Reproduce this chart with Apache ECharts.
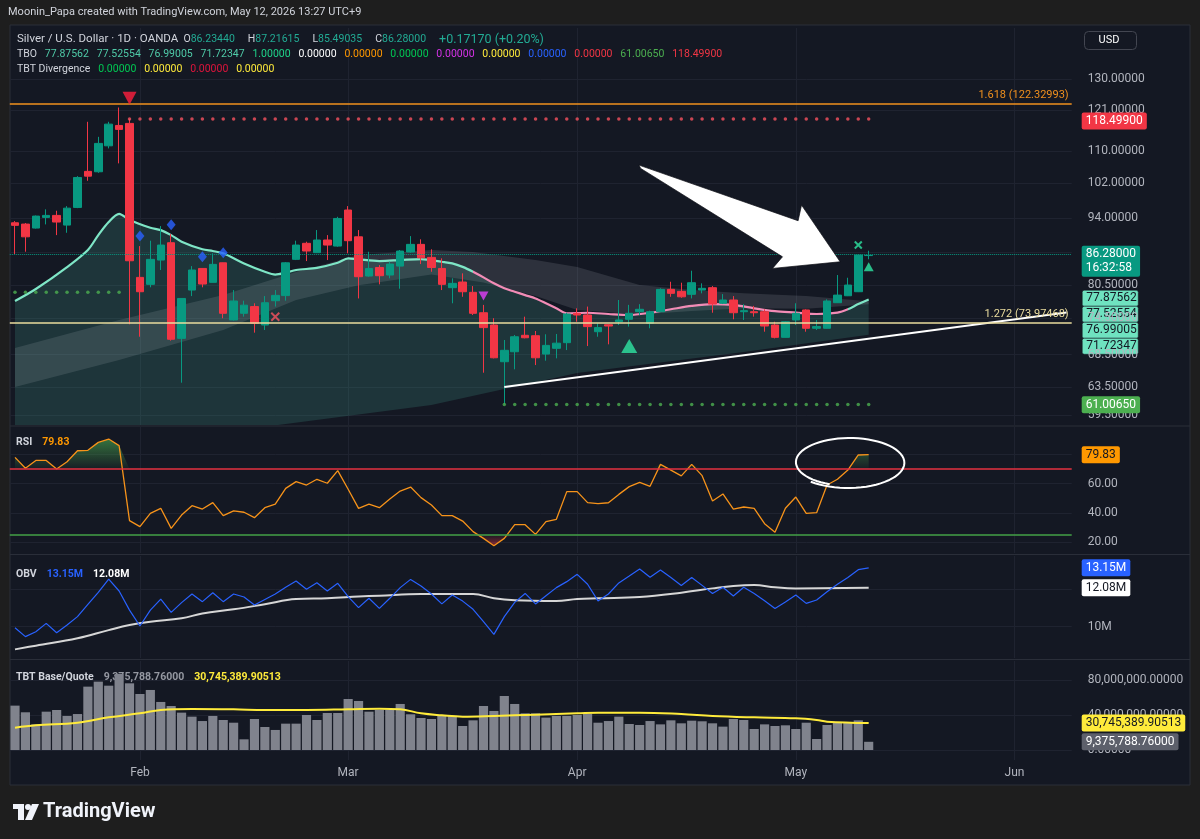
<!DOCTYPE html>
<html>
<head>
<meta charset="utf-8">
<title>Silver / U.S. Dollar · 1D · OANDA</title>
<script src="https://cdn.jsdelivr.net/npm/echarts@6/dist/echarts.min.js"></script>
<style>
  html, body { margin: 0; padding: 0; background: #1e1e1e; }
  #chart { width: 1200px; height: 839px; }
</style>
</head>
<body>
<div id="chart"></div>
<script>
// ---- values ----
var holidays = ['2026-04-03']   // no bar on Good Friday
var barCount = 102               // bars + empty space up to the price scale

// open, close, low, high
var ohlc = [
  [93.07, 92.51, 86.54, 93.44], [92.79, 90.08, 87.01, 93.01], [91.93, 94.53, 91.82, 94.65],
  [94.24, 94.68, 92.72, 96.02], [94.68, 93.23, 90.44, 95.71], [92.57, 96.29, 90.93, 96.75],
  [96.45, 103.41, 96.29, 103.73], [104.89, 103.73, 102.62, 117.71], [104.79, 111.94, 104.54, 113.66],
  [111.31, 117.07, 110.64, 117.71], [116.71, 115.65, 106.86, 121.69], [117.27, 85.20, 73.49, 118.499],
  [81.97, 79.28, 71.40, 88.16], [80.65, 85.48, 80.10, 89.27], [85.34, 88.37, 83.39, 92.36],
  [88.85, 70.98, 70.75, 90.65], [71.13, 78.05, 64.16, 78.10], [79.59, 83.39, 78.48, 84.15],
  [83.69, 80.71, 80.10, 83.75], [81.03, 84.49, 80.99, 86.69], [84.80, 75.40, 74.54, 84.84],
  [74.24, 77.59, 74.15, 79.59], [75.40, 76.84, 74.81, 77.64], [76.59, 73.67, 72.08, 77.18],
  [73.37, 77.28, 72.53, 78.48], [77.64, 78.61, 76.59, 79.59], [78.57, 84.80, 77.64, 84.94],
  [85.48, 88.37, 85.34, 89.27], [88.73, 87.15, 85.14, 89.06], [86.81, 89.41, 86.74, 91.51],
  [89.41, 88.37, 85.34, 90.44], [88.16, 94.01, 88.02, 94.37], [95.87, 89.27, 86.69, 96.75],
  [90.08, 82.10, 78.05, 91.51], [82.23, 83.69, 82.10, 87.01], [83.88, 82.29, 80.65, 84.35],
  [82.42, 84.55, 81.79, 85.00], [84.15, 87.15, 79.84, 87.36], [86.95, 88.51, 86.81, 90.23],
  [88.51, 85.78, 84.55, 89.56], [85.87, 83.88, 83.05, 87.50], [83.69, 80.65, 79.59, 85.68],
  [80.03, 80.84, 77.18, 81.79], [81.09, 79.28, 78.35, 82.74], [79.17, 75.40, 75.10, 80.33],
  [75.50, 72.93, 65.67, 76.89], [73.37, 67.99, 67.90, 74.54], [67.37, 69.18, 61.0065, 70.86],
  [68.95, 71.40, 66.19, 71.69], [71.64, 71.23, 71.13, 74.81], [71.57, 67.99, 66.85, 72.36],
  [68.58, 69.98, 67.53, 71.81], [69.50, 70.34, 67.90, 71.86], [70.42, 75.28, 69.22, 75.50],
  [75.40, 75.10, 73.94, 76.28], [75.10, 73.10, 69.87, 76.59], [72.24, 72.93, 71.40, 73.67],
  [73.42, 73.20, 70.15, 73.50], [73.94, 74.24, 73.37, 77.77], [74.36, 75.40, 73.10, 76.89],
  [75.68, 76.11, 75.10, 77.02], [73.67, 75.68, 72.82, 75.86], [75.68, 79.72, 75.63, 79.91],
  [79.72, 78.98, 78.35, 81.14], [79.35, 78.35, 78.17, 80.96], [78.80, 80.96, 78.05, 83.25],
  [79.59, 79.91, 78.98, 80.84], [80.03, 77.04, 75.50, 80.33], [77.18, 77.77, 77.04, 78.85],
  [77.77, 75.50, 74.36, 78.48], [75.68, 75.86, 74.24, 77.02], [75.68, 75.50, 74.81, 76.71],
  [75.68, 73.20, 72.24, 76.11], [73.37, 71.30, 71.13, 73.94], [71.30, 73.94, 71.26, 74.05],
  [74.24, 75.40, 73.37, 77.18], [75.99, 72.82, 72.24, 76.11], [72.82, 73.10, 72.53, 74.24],
  [72.82, 77.59, 72.79, 77.89], [77.28, 78.66, 77.23, 82.42], [78.54, 80.52, 78.48, 81.90],
  [79.28, 86.34, 79.22, 86.44], [86.2344, 86.28, 85.49035, 87.21615]
]

// TBO lines as [bar, price] keypoints
var tboFast = [[0, 77.59], [2, 79.78], [5, 83.95], [7, 87.36], [8, 90.44], [9, 93.23], [10, 95.01],
  [11, 93.66], [13, 92.0], [14, 91.5], [15, 90.44], [16, 89.06], [18, 87.5], [19, 87.15], [20, 86.69],
  [22, 84.68], [24, 83.05], [25, 82.5], [26, 82.85], [27, 83.39], [29, 83.81], [31, 84.8], [32, 85.68],
  [33, 85.48], [35, 85.14], [37, 85.34], [39, 85.54], [41, 85.0], [42, 84.68], [43, 84.0], [44, 83.05],
  [45, 81.97], [46, 80.84], [47, 79.91], [48, 79.28], [49, 78.66], [50, 78.05], [51, 77.18], [52, 76.28],
  [53, 75.4], [55, 75.5], [57, 75.28], [59, 75.1], [61, 75.5], [63, 76.11], [65, 76.71], [67, 77.04],
  [69, 76.89], [71, 76.28], [73, 75.77], [75, 75.53], [77, 75.28], [79, 75.53], [80, 76.11], [81, 77.04],
  [82, 77.87562]]
var tboUpper = [[0, 69.55], [10, 74.24], [20, 78.66], [27, 83.0], [33, 86.34], [40, 87.36], [44, 86.95],
  [50, 85.34], [54, 83.95], [60, 80.52], [65, 79.59], [70, 78.98], [76, 78.48], [82, 77.52554]]
var tboLower = [[0, 63.53], [10, 67.64], [20, 72.53], [27, 77.77], [33, 80.5], [40, 82.5], [45, 81.0],
  [50, 78.5], [54, 76.0], [60, 75.2], [65, 75.8], [70, 76.3], [76, 76.2], [82, 76.99005]]
var tboFloor = [[0, 55.5], [25, 58.1], [40, 60.92], [54, 65.62], [70, 68.91], [82, 71.72347]]
var tboLast = [77.87562, 77.52554, 76.99005, 71.72347]

var lastPrice = 86.28
var highLevel = 118.499
var lowLevel = 61.0065
var earlyLevel = 79.17
var fib1618 = 122.32993
var fib1272 = 73.97468
var trendline = [[47, 63.53], [101, 75.56]]

var sellTri = [[11, 124.3]]
var blueDiamonds = [[12, 90.23], [15, 92.64], [18, 85.99], [20, 86.81]]
var redCross = [[25, 74.81]]
var magentaTri = [[45, 78.48]]
var buyTri = [[59, 69.87]]
var greenCross = [[81, 88.37]]
var smallBuyTri = [[82, 84.0]]

// white hand-drawn arrow, [bar, price]
var arrowPts = [[59.93, 106.43], [75.22, 93.51], [75.55, 96.98], [79.26, 85.0], [72.76, 83.69],
  [73.72, 85.99], [60.1, 105.61]]

var rsi = [78.0, 70.5, 75.9, 75.9, 70.0, 75.0, 82.5, 82.8, 88.2, 90.5,
  86.0, 34.8, 30.7, 39.8, 43.2, 29.5, 38.6, 45.0, 42.7, 47.1,
  38.2, 41.4, 40.5, 36.8, 43.6, 46.1, 56.8, 61.4, 59.1, 63.0,
  60.3, 68.9, 56.2, 43.2, 46.1, 43.6, 49.6, 55.0, 57.7, 50.5,
  45.5, 38.2, 38.2, 34.5, 27.3, 22.7, 17.7, 22.7, 32.0, 32.0,
  25.4, 34.1, 35.7, 54.6, 54.6, 47.1, 46.4, 47.0, 52.7, 58.0,
  60.9, 58.2, 73.2, 69.3, 65.3, 73.2, 65.5, 48.2, 53.0, 42.7,
  44.1, 43.2, 32.7, 26.8, 43.2, 50.9, 39.8, 40.2, 59.1, 63.0,
  69.3, 79.6, 79.83]
var rsiBands = [70, 25]

var obvM = [9.95, 9.47, 9.73, 10.18, 9.68, 10.09, 10.54, 11.20, 11.84, 12.55,
  11.91, 10.89, 10.04, 10.89, 11.48, 10.77, 11.29, 11.75, 11.34, 11.82,
  11.34, 11.75, 11.59, 11.16, 11.46, 11.75, 12.11, 12.44, 12.00, 12.35,
  11.91, 12.32, 11.61, 11.02, 11.52, 10.98, 11.52, 12.09, 12.53, 12.18,
  11.75, 11.22, 11.70, 11.37, 10.93, 10.27, 9.59, 10.54, 11.30, 11.78,
  11.22, 11.66, 12.09, 12.41, 12.80, 12.27, 11.38, 11.75, 12.34, 12.71,
  13.09, 12.64, 13.03, 12.63, 12.20, 12.63, 12.21, 11.78, 12.11, 11.64,
  12.11, 11.78, 11.39, 10.98, 11.32, 11.70, 11.25, 11.43, 11.87, 12.27,
  12.63, 13.05, 13.15]
var obvMaPts = [[0, 8.79], [2, 8.99], [6, 9.38], [9, 9.82], [11, 10.09], [13, 10.27], [16, 10.45],
  [18, 10.71], [21, 10.93], [24, 11.2], [27, 11.48], [30, 11.52], [33, 11.61], [35, 11.66], [39, 11.75],
  [44, 11.75], [46, 11.52], [48, 11.41], [52, 11.37], [54, 11.48], [56, 11.52], [60, 11.59], [64, 11.82],
  [67, 12.05], [69, 12.18], [71, 12.23], [73, 12.11], [75, 12.05], [82, 12.08]]

// TBT base volume, millions
var volM = [50.7, 43.1, 29.3, 43.8, 45.7, 38.9, 41.1, 72.4, 78.1, 73.5,
  86.9, 76.2, 64.0, 68.6, 54.9, 50.3, 42.7, 38.1, 33.1, 38.9,
  34.3, 31.2, 12.2, 35.4, 26.3, 22.9, 30.1, 30.1, 40.0, 34.3,
  42.3, 42.3, 58.3, 56.0, 43.8, 45.7, 45.7, 52.6, 40.8, 36.6,
  35.4, 38.9, 38.9, 27.4, 33.9, 50.3, 44.6, 61.7, 52.6, 41.9,
  41.9, 37.0, 38.9, 38.9, 40.0, 41.1, 31.2, 33.1, 38.1, 29.7,
  28.6, 33.1, 29.3, 33.9, 30.5, 33.5, 32.8, 30.5, 26.7, 35.4,
  34.3, 24.0, 29.3, 27.4, 28.2, 24.0, 31.2, 12.6, 28.6, 31.2,
  31.2, 33.9, 9.37578876]
var volMaPts = [[0, 25.5], [2, 28.2], [6, 31.2], [9, 37.3], [12, 41.9], [14, 45.7], [17, 46.9],
  [21, 46.5], [24, 45.7], [28, 45.7], [32, 46.5], [35, 47.2], [37, 46.5], [39, 41.9], [41, 39.6],
  [43, 38.1], [46, 38.9], [50, 40.4], [54, 41.9], [56, 42.7], [60, 42.7], [64, 41.1], [67, 38.9],
  [71, 37.3], [75, 36.2], [77, 34.3], [78, 32.4], [82, 30.74538990513]]
var volLastRaw = 9375788.76
var volMaLastRaw = 30745389.90513

var priceTicks = [130, 121, 110, 102, 94, 87, 80.5, 74.5, 68.5, 63.5, 59.5]
var rsiTicks = [20, 40, 60, 80]
var obvTicks = [10, 12]
var volTicks = [0, 40, 80]
var monthNames = ['Jan', 'Feb', 'Mar', 'Apr', 'May', 'Jun', 'Jul']

// ---- chart ----
var up = '#089981'
var down = '#f23645'
var mint = '#7ee6c6'
var pink = '#f28cb6'
var gridLine = '#1f2330'
var axisText = '#b2b5be'
var font = 'Roboto, "Noto Sans", sans-serif'

var dates = []
var day = new Date(Date.UTC(2026, 0, 15))
while (dates.length < barCount) {
  var iso = day.toISOString().slice(0, 10)
  var wd = day.getUTCDay()
  if (wd !== 0 && wd !== 6 && holidays.indexOf(iso) < 0) dates.push(iso)
  day.setUTCDate(day.getUTCDate() + 1)
}
function isMonthStart (i) {
  return i > 0 && dates[i].slice(5, 7) !== dates[i - 1].slice(5, 7)
}

function ln (v) { return Math.log(v) }
function lnPts (arr) { return arr.map(function (p) { return [p[0], ln(p[1])] }) }
function fixed5 (v) { return v.toFixed(5) }
function fmtVol (v) {
  return v.toLocaleString('en-US', { minimumFractionDigits: 5, maximumFractionDigits: 5 })
}

// category coords are integers, so interpolate for fractional bars
function coordAt (api, x, y) {
  var i = Math.floor(x)
  var f = x - i
  var a = api.coord([i, y])
  var b = api.coord([i + 1, y])
  return [a[0] + (b[0] - a[0]) * f, a[1]]
}

function tag (text, bg, fg) {
  return {
    show: true, position: 'end', distance: 10, formatter: text,
    backgroundColor: bg, color: fg, padding: [2, 4, 1, 4], borderRadius: 2,
    fontSize: 12, lineHeight: 14, fontFamily: font
  }
}
function tagLine (value, text, bg, fg) {
  return { yAxis: value, lineStyle: { color: 'rgba(0,0,0,0)', width: 1 }, label: tag(text, bg, fg) }
}

var series = []
function add (s) {
  s.animation = false
  series.push(s)
  return series.length - 1
}

function band (upper, lower, fill) {
  return {
    type: 'custom', xAxisIndex: 0, yAxisIndex: 0, z: 1, silent: true, clip: true,
    data: [[0, ln(80)]],
    renderItem: function (params, api) {
      var pts = []
      upper.forEach(function (p) { pts.push(api.coord([p[0], ln(p[1])])) })
      lower.slice().reverse().forEach(function (p) { pts.push(api.coord([p[0], ln(p[1])])) })
      return { type: 'polygon', shape: { points: pts }, style: { fill: fill } }
    }
  }
}

function dots (level, from, to, color) {
  var d = []
  for (var i = from; i <= to; i++) d.push([i, ln(level)])
  return {
    type: 'scatter', xAxisIndex: 0, yAxisIndex: 0, z: 4, silent: true,
    symbol: 'circle', symbolSize: 3.5, itemStyle: { color: color }, data: d
  }
}

function marker (pts, symbol, size, color, rotate, stroke) {
  return {
    type: 'scatter', xAxisIndex: 0, yAxisIndex: 0, z: 5, silent: true,
    data: lnPts(pts), symbol: symbol, symbolSize: size, symbolRotate: rotate || 0,
    itemStyle: stroke
      ? { color: 'rgba(0,0,0,0)', borderColor: color, borderWidth: 2 }
      : { color: color }
  }
}

// TBO cloud
add(band(tboFast, tboFloor, 'rgba(72,170,150,0.2)'))
add(band(tboUpper, tboLower, 'rgba(200,206,212,0.14)'))
var fastIdx = add({
  type: 'line', xAxisIndex: 0, yAxisIndex: 0, z: 2, silent: true,
  data: lnPts(tboFast), smooth: 0.3, symbol: 'none', lineStyle: { width: 2.2 }
})

var priceTag = tag(fixed5(lastPrice) + '\n16:32:58', up, '#ffffff')
priceTag.offset = [0, 7]

add({
  type: 'candlestick', xAxisIndex: 0, yAxisIndex: 0, z: 3, silent: true,
  data: ohlc.map(function (r) { return r.map(ln) }),
  barWidth: 8,
  itemStyle: { color: up, color0: down, borderColor: up, borderColor0: down, borderWidth: 1 },
  markLine: {
    symbol: 'none', silent: true, animation: false,
    data: [
      {
        yAxis: ln(fib1618), lineStyle: { color: '#f0901e', type: 'solid', width: 1.5 },
        label: { position: 'insideEndTop', formatter: '1.618 (' + fixed5(fib1618) + ')', color: '#f0901e', fontSize: 11, fontFamily: font, distance: 3 }
      },
      {
        yAxis: ln(fib1272), lineStyle: { color: '#eadc9e', type: 'solid', width: 1.5 },
        label: { position: 'insideEndTop', formatter: '1.272 (' + fixed5(fib1272) + ')', color: '#eadc9e', fontSize: 11, fontFamily: font, distance: 3 }
      },
      { yAxis: ln(lastPrice), lineStyle: { color: up, type: 'dotted', width: 1 }, label: priceTag },
      tagLine(ln(highLevel), fixed5(highLevel), down, '#ffffff'),
      tagLine(ln(lowLevel), fixed5(lowLevel), '#4caf50', '#ffffff')
    ]
  }
})

add(dots(highLevel, 11, 82, '#f7525f'))
add(dots(lowLevel, 47, 82, '#4caf50'))
add(dots(earlyLevel, 0, 10, '#4caf50'))

add({
  type: 'line', xAxisIndex: 0, yAxisIndex: 0, z: 4, silent: true,
  data: lnPts(trendline), symbol: 'none', lineStyle: { color: '#ffffff', width: 2 }
})

var crossPath = 'path://M0,0L10,10M10,0L0,10'
add(marker(sellTri, 'triangle', [14, 13], '#ff1f3d', 180))
add(marker(blueDiamonds, 'diamond', [9, 11], '#2962ff'))
add(marker(redCross, crossPath, 8, '#f7525f', 0, true))
add(marker(magentaTri, 'triangle', [10, 9], '#e040fb', 180))
add(marker(buyTri, 'triangle', [16, 14], '#2ee6a2'))
add(marker(greenCross, crossPath, 7, '#2ee6a2', 0, true))
add(marker(smallBuyTri, 'triangle', [10, 9], '#2ee6a2'))

add({
  type: 'custom', xAxisIndex: 0, yAxisIndex: 0, z: 6, silent: true,
  data: [[60, ln(100)]],
  renderItem: function (params, api) {
    var pts = arrowPts.map(function (p) { return coordAt(api, p[0], ln(p[1])) })
    return {
      type: 'polygon', shape: { points: pts },
      style: { fill: '#ffffff', stroke: 'rgba(10,12,18,0.7)', lineWidth: 1 }
    }
  }
})

// RSI
var greenFill = new echarts.graphic.LinearGradient(0, 0, 0, 1, [
  { offset: 0, color: 'rgba(76,175,80,0.6)' }, { offset: 1, color: 'rgba(76,175,80,0.04)' }])
var redFill = new echarts.graphic.LinearGradient(0, 0, 0, 1, [
  { offset: 0, color: 'rgba(242,54,69,0.04)' }, { offset: 1, color: 'rgba(242,54,69,0.5)' }])
add({
  type: 'line', xAxisIndex: 1, yAxisIndex: 1, stack: 'ob', silent: true, symbol: 'none',
  data: rsi.map(function () { return rsiBands[0] }), lineStyle: { opacity: 0 }
})
add({
  type: 'line', xAxisIndex: 1, yAxisIndex: 1, stack: 'ob', silent: true, symbol: 'none',
  data: rsi.map(function (v) { return Math.max(v - rsiBands[0], 0) }),
  lineStyle: { opacity: 0 }, areaStyle: { color: greenFill, opacity: 1 }
})
add({
  type: 'line', xAxisIndex: 1, yAxisIndex: 1, stack: 'os', silent: true, symbol: 'none',
  data: rsi.map(function (v) { return Math.min(v, rsiBands[1]) }), lineStyle: { opacity: 0 }
})
add({
  type: 'line', xAxisIndex: 1, yAxisIndex: 1, stack: 'os', silent: true, symbol: 'none',
  data: rsi.map(function (v) { return rsiBands[1] - Math.min(v, rsiBands[1]) }),
  lineStyle: { opacity: 0 }, areaStyle: { color: redFill, opacity: 1 }
})
add({
  type: 'line', xAxisIndex: 1, yAxisIndex: 1, z: 3, silent: true, symbol: 'none',
  data: rsi, lineStyle: { color: '#f7931a', width: 1.3 },
  markLine: {
    symbol: 'none', silent: true, animation: false,
    data: [
      { yAxis: rsiBands[0], lineStyle: { color: '#e53140', type: 'solid', width: 1.6 }, label: { show: false } },
      { yAxis: rsiBands[1], lineStyle: { color: '#43a047', type: 'solid', width: 1.6 }, label: { show: false } },
      tagLine(rsi[rsi.length - 1], rsi[rsi.length - 1].toFixed(2), '#ff9800', '#131722')
    ]
  }
})
// hand-drawn ring on the RSI pane
add({
  type: 'custom', xAxisIndex: 1, yAxisIndex: 1, z: 6, silent: true,
  data: [[80, 75]],
  renderItem: function (params, api) {
    var pts = []
    var n = 70
    for (var k = 0; k <= n; k++) {
      var t = k / n
      var a = -1.95 - t * (Math.PI * 2 + 0.35)
      var r = 1 + 0.1 * t
      pts.push(coordAt(api, 80.1 + 5.0 * r * Math.cos(a), 74.5 + 16 * r * Math.sin(a)))
    }
    return { type: 'polyline', shape: { points: pts }, style: { stroke: '#ffffff', lineWidth: 2, fill: null } }
  }
})

// OBV
add({
  type: 'line', xAxisIndex: 2, yAxisIndex: 2, z: 3, silent: true, symbol: 'none',
  data: obvM, lineStyle: { color: '#2962ff', width: 1.2 },
  markLine: {
    symbol: 'none', silent: true, animation: false,
    data: [
      tagLine(obvM[obvM.length - 1], obvM[obvM.length - 1].toFixed(2) + 'M', '#2962ff', '#ffffff'),
      tagLine(obvMaPts[obvMaPts.length - 1][1], obvMaPts[obvMaPts.length - 1][1].toFixed(2) + 'M', '#ffffff', '#131722')
    ]
  }
})
add({
  type: 'line', xAxisIndex: 2, yAxisIndex: 2, z: 2, silent: true, symbol: 'none', smooth: 0.4,
  data: obvMaPts, lineStyle: { color: '#d6d6d6', width: 2 }
})

// TBT base / quote volume
add({
  type: 'bar', xAxisIndex: 3, yAxisIndex: 3, z: 2, silent: true,
  data: volM, barCategoryGap: '12%', itemStyle: { color: '#80838d' },
  markLine: {
    symbol: 'none', silent: true, animation: false,
    data: [
      tagLine(volMaLastRaw / 1e6, fmtVol(volMaLastRaw), '#ffeb3b', '#131722'),
      tagLine(volLastRaw / 1e6, fmtVol(volLastRaw), '#5d606b', '#ffffff')
    ]
  }
})
add({
  type: 'line', xAxisIndex: 3, yAxisIndex: 3, z: 3, silent: true, symbol: 'none', smooth: 0.4,
  data: volMaPts, lineStyle: { color: '#ffeb3b', width: 2 }
})

var gl = 9.8
var gw = 1061.9
var grids = [
  { left: gl, width: gw, top: 28, height: 397 },
  { left: gl, width: gw, top: 427, height: 126 },
  { left: gl, width: gw, top: 556, height: 102 },
  { left: gl, width: gw, top: 661, height: 99 }
].map(function (g) { g.outerBoundsMode = 'none'; g.containLabel = false; return g })

function xAx (i, labels) {
  return {
    type: 'category', gridIndex: i, data: dates, boundaryGap: true,
    axisLine: { show: false },
    axisTick: { show: false, alignWithLabel: true },
    axisLabel: labels
      ? {
          show: true, interval: function (idx) { return isMonthStart(idx) },
          formatter: function (v) { return monthNames[+v.slice(5, 7) - 1] },
          color: axisText, fontSize: 12, margin: 7, fontFamily: font
        }
      : { show: false },
    splitLine: {
      show: true, alignWithLabel: true,
      interval: function (idx) { return isMonthStart(idx) },
      lineStyle: { color: gridLine, width: 1 }
    }
  }
}

function yAx (i, min, max, ticks, fmt) {
  return {
    type: 'value', gridIndex: i, position: 'right', min: min, max: max, scale: true,
    axisLine: { show: false },
    axisTick: { show: false, customValues: ticks },
    axisLabel: { customValues: ticks, formatter: fmt, color: axisText, fontSize: 12, margin: 16, fontFamily: font },
    splitLine: { show: true, lineStyle: { color: gridLine, width: 1 } }
  }
}

var fs = 10.5
var rich = {}
var palette = {
  w: '#d1d4dc', g: '#22ab94', m: '#4fcaa8', lg: '#1fd38a', wh: '#ffffff', or: '#ff9800',
  gr: '#00c853', mg: '#d633e8', ye: '#ffeb3b', bl: '#2962ff', rd: '#f23645', cr: '#e0143c',
  g2: '#4caf50', gy: '#9598a1', o: '#ff9800'
}
Object.keys(palette).forEach(function (k) {
  rich[k] = { color: palette[k], fontSize: fs, fontFamily: font, lineHeight: 15 }
})
rich.wl = { color: palette.w, fontSize: 11.5, fontFamily: font, lineHeight: 15 }
rich.gl = { color: palette.g, fontSize: 12.5, fontFamily: font, lineHeight: 15 }

var zeros = '0.00000'
var gap = '   '
var wideGap = '     '
var legendMain = [
  '{wl|Silver / U.S. Dollar · 1D · OANDA}  {w|O}{g|86.23440}' + wideGap + '{w|H}{g|87.21615}' + wideGap +
    '{w|L}{g|85.49035}' + wideGap + '{w|C}{g|86.28000}' + wideGap + '{gl|+0.17170 (+0.20%)}',
  '{w|TBO}' + gap + tboLast.map(function (v) { return '{m|' + fixed5(v) + '}' }).join(gap) + gap +
    ['{lg|1.00000}', '{wh|' + zeros + '}', '{or|' + zeros + '}', '{gr|' + zeros + '}', '{mg|' + zeros + '}',
      '{ye|' + zeros + '}', '{bl|' + zeros + '}', '{rd|' + zeros + '}', '{g2|' + fixed5(lowLevel) + '}',
      '{rd|' + fixed5(highLevel) + '}'].join(gap),
  '{w|TBT Divergence}' + gap + ['{gr|' + zeros + '}', '{ye|' + zeros + '}', '{cr|' + zeros + '}', '{ye|' + zeros + '}'].join(gap)
].join('\n')

// stacked TBO price-scale tags (TradingView shifts them apart)
var tboTags = tboLast.map(function (v, i) {
  return {
    type: 'group', left: 1082, top: 290 + i * 16, z: 20,
    children: [
      { type: 'rect', shape: { x: 0, y: 0, width: 56, height: 16, r: 2 }, style: { fill: '#6fe2c0', stroke: '#131722', lineWidth: 0.5 } },
      { type: 'text', x: 4, y: 2, style: { text: fixed5(v), fill: '#131722', font: '12px ' + font } }
    ]
  }
})

var option = {
  backgroundColor: '#1e1e1e',
  animation: false,
  title: [
    {
      left: 8, top: 7, padding: 0, text: 'Moonin_Papa created with TradingView.com, May 12, 2026 13:27 UTC+9',
      textStyle: { color: '#d1d4dc', fontSize: 11, fontWeight: 'normal', fontFamily: font }
    },
    {
      left: 17, top: 32, padding: 0, z: 8, text: legendMain,
      textStyle: { rich: rich, lineHeight: 15, fontSize: fs, fontWeight: 'normal', fontFamily: font }
    },
    { left: 16, top: 433, padding: 0, z: 8, text: '{w|RSI}  {o|' + rsi[rsi.length - 1].toFixed(2) + '}', textStyle: { rich: rich } },
    {
      left: 16, top: 565, padding: 0, z: 8,
      text: '{w|OBV}  {bl|' + obvM[obvM.length - 1].toFixed(2) + 'M}  {wh|' + obvMaPts[obvMaPts.length - 1][1].toFixed(2) + 'M}',
      textStyle: { rich: rich }
    },
    {
      left: 16, top: 668, padding: 0, z: 1,
      text: '{w|TBT Base/Quote}  {gy|' + fmtVol(volLastRaw) + '}  {ye|' + fmtVol(volMaLastRaw) + '}',
      textStyle: { rich: rich }
    }
  ],
  grid: grids,
  xAxis: [xAx(0, false), xAx(1, false), xAx(2, false), xAx(3, true)],
  yAxis: [
    yAx(0, ln(58.15), ln(146.4), priceTicks.map(ln), function (v) { return fixed5(Math.exp(v)) }),
    yAx(1, 12.7, 98.7, rsiTicks, function (v) { return v.toFixed(2) }),
    yAx(2, 8.33, 13.78, obvTicks, function (v) { return v + 'M' }),
    yAx(3, -11.43, 101.7, volTicks, function (v) { return fmtVol(v * 1e6) })
  ],
  visualMap: [{
    type: 'piecewise', show: false, seriesIndex: fastIdx, dimension: 0,
    pieces: [
      { lt: 43.5, color: mint },
      { gte: 43.5, lte: 80.3, color: pink },
      { gt: 80.3, color: mint }
    ]
  }],
  graphic: [
    { type: 'rect', z: -10, silent: true, shape: { x: 10, y: 25, width: 1180, height: 760 }, style: { fill: '#141823', stroke: '#2a2e39', lineWidth: 1 } },
    { type: 'line', z: -5, silent: true, shape: { x1: 10, y1: 426, x2: 1190, y2: 426 }, style: { stroke: '#2a2e39', lineWidth: 1 } },
    { type: 'line', z: -5, silent: true, shape: { x1: 10, y1: 554.5, x2: 1190, y2: 554.5 }, style: { stroke: '#2a2e39', lineWidth: 1 } },
    { type: 'line', z: -5, silent: true, shape: { x1: 10, y1: 659.5, x2: 1190, y2: 659.5 }, style: { stroke: '#2a2e39', lineWidth: 1 } },
    {
      type: 'group', left: 1084, top: 31, z: 20,
      children: [
        { type: 'rect', shape: { x: 0, y: 0, width: 52, height: 18, r: 4 }, style: { fill: '#141823', stroke: '#434651', lineWidth: 1 } },
        { type: 'text', x: 14, y: 3, style: { text: 'USD', fill: '#ffffff', font: '11px ' + font } }
      ]
    },
    // TradingView logo
    {
      type: 'group', left: 13, top: 802, z: 20,
      children: [
        { type: 'rect', shape: { x: 0, y: 0, width: 11, height: 5 }, style: { fill: '#f0f3fa' } },
        { type: 'rect', shape: { x: 5, y: 0, width: 6, height: 16 }, style: { fill: '#f0f3fa' } },
        { type: 'circle', shape: { cx: 15, cy: 3, r: 3 }, style: { fill: '#f0f3fa' } },
        { type: 'polygon', shape: { points: [[19, 0], [26, 0], [19, 16], [12, 16]] }, style: { fill: '#f0f3fa' } },
        { type: 'text', x: 30, y: -2, style: { text: 'TradingView', fill: '#f0f3fa', font: 'bold 20px ' + font } }
      ]
    }
  ].concat(tboTags),
  series: series
}

var chart = echarts.init(document.getElementById('chart'))
chart.setOption(option)
</script>
</body>
</html>
